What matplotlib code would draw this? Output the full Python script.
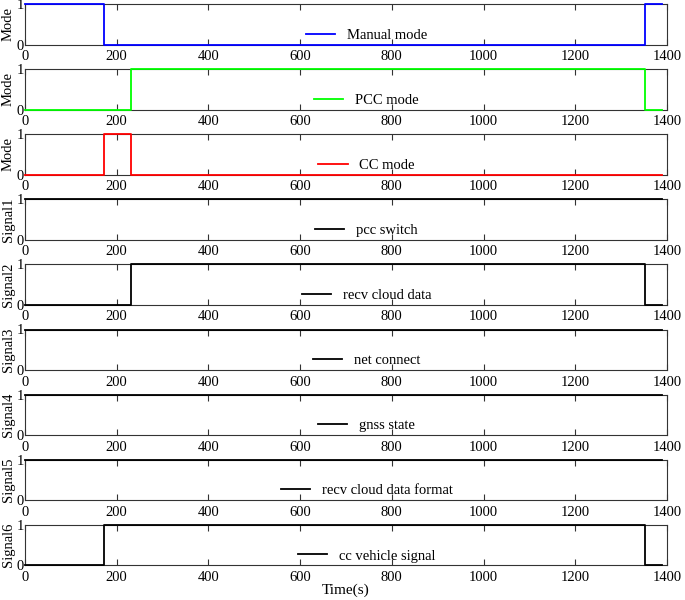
import matplotlib
matplotlib.use("Agg")
import matplotlib.pyplot as plt

plt.rcParams['font.family'] = ['Liberation Serif', 'DejaVu Serif']

# breakpoints of the step signals (s)
t = [0, 172, 232, 1351, 1389]

manual_mode = [1, 0, 0, 1, 1]
pcc_mode = [0, 0, 1, 0, 0]
cc_mode = [0, 1, 0, 0, 0]
pcc_switch = [1, 1, 1, 1, 1]
recv_cloud_data = [0, 0, 1, 0, 0]
net_connect = [1, 1, 1, 1, 1]
gnss_state = [1, 1, 1, 1, 1]
recv_cloud_data_format = [1, 1, 1, 1, 1]
cc_vehicle_signal = [0, 1, 1, 0, 0]

series = [
    (manual_mode, 'Manual mode', 'Mode', '#0000ff'),
    (pcc_mode, 'PCC mode', 'Mode', '#00ff00'),
    (cc_mode, 'CC mode', 'Mode', '#ff0000'),
    (pcc_switch, 'pcc switch', 'Signal1', 'black'),
    (recv_cloud_data, 'recv cloud data', 'Signal2', 'black'),
    (net_connect, 'net connect', 'Signal3', 'black'),
    (gnss_state, 'gnss state', 'Signal4', 'black'),
    (recv_cloud_data_format, 'recv cloud data format', 'Signal5', 'black'),
    (cc_vehicle_signal, 'cc vehicle signal', 'Signal6', 'black'),
]

xticks = [0, 200, 400, 600, 800, 1000, 1200, 1400]

W, H = 685, 600
fig = plt.figure(figsize=(W / 100, H / 100), dpi=100)

left_px, right_px = 25, 667
top0, step, hgt = 4, 65.1, 40.5
fs = 10.5

for i, (vals, label, ylabel, color) in enumerate(series):
    top = top0 + step * i
    ax = fig.add_axes([left_px / W, 1 - (top + hgt) / H, (right_px - left_px) / W, hgt / H])
    ax.plot(t, vals, drawstyle='steps-post', color=color, lw=1.3, label=label, clip_on=False, zorder=3)
    ax.set_xlim(0, 1400)
    ax.set_ylim(0, 1)
    ax.set_xticks(xticks)
    ax.set_yticks([0, 1])
    ax.tick_params(axis='x', direction='in', top=True, bottom=True, length=4, width=0.8,
                   labelsize=fs, pad=4, color='#333333')
    ax.tick_params(axis='y', direction='in', left=True, right=True, length=0, labelsize=fs, pad=1)
    for s in ax.spines.values():
        s.set_color('#333333')
        s.set_linewidth(0.8)
    ax.set_ylabel(ylabel, fontsize=fs, labelpad=1)
    ax.legend(loc='center', bbox_to_anchor=(0.532, 0.23), frameon=False, fontsize=fs,
              handlelength=2.0, handletextpad=0.8, borderpad=0.1)
    if i == len(series) - 1:
        ax.set_xlabel('Time(s)', fontsize=fs + 0.5, labelpad=0)

fig.savefig('out.png', dpi=100)
